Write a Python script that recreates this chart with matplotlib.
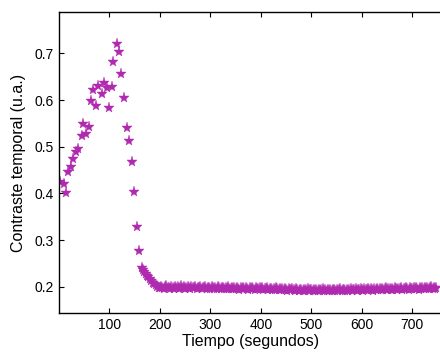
import numpy as np
import matplotlib
matplotlib.use("Agg")
import matplotlib.pyplot as plt

# early part: rise, peak and fall
time_early = [2.4, 10.3, 14.3, 18.8, 23.6, 28.7, 34.0, 38.6, 45.3, 48.5,
              53.9, 60.4, 64.4, 68.3, 73.7, 78.2, 85.0, 89.5, 96.0, 100.0,
              104.8, 108.0, 114.7, 119.8, 123.8, 129.7, 135.6, 139.6, 145.0, 149.5,
              154.3, 159.4, 164.0, 166.5, 169.0, 172.0, 174.5, 177.0, 180.0, 183.0,
              186.0, 189.0, 192.0, 195.0, 197.5]
contrast_early = [0.425, 0.420, 0.400, 0.446, 0.457, 0.473, 0.489, 0.496, 0.523, 0.549,
                  0.527, 0.543, 0.598, 0.621, 0.588, 0.630, 0.612, 0.636, 0.625, 0.582,
                  0.627, 0.681, 0.719, 0.702, 0.656, 0.605, 0.540, 0.512, 0.467, 0.403,
                  0.327, 0.277, 0.240, 0.236, 0.231, 0.228, 0.224, 0.220, 0.216, 0.213,
                  0.209, 0.206, 0.203, 0.200, 0.198]

# plateau, sampled every 2.5 s from 200 s
time_tail = np.arange(200, 750, 2.5)
contrast_tail = [
    0.197, 0.200, 0.198, 0.196, 0.199, 0.201, 0.197, 0.198, 0.195, 0.199,
    0.198, 0.196, 0.200, 0.197, 0.199, 0.196, 0.198, 0.201, 0.197, 0.199,
    0.196, 0.198, 0.200, 0.197, 0.195, 0.199, 0.197, 0.198, 0.200, 0.196,
    0.198, 0.197, 0.199, 0.195, 0.198, 0.197, 0.200, 0.196, 0.198, 0.197,
    0.196, 0.199, 0.197, 0.195, 0.198, 0.196, 0.199, 0.197, 0.195, 0.198,
    0.197, 0.195, 0.198, 0.196, 0.199, 0.196, 0.195, 0.198, 0.196, 0.197,
    0.195, 0.198, 0.196, 0.194, 0.197, 0.196, 0.198, 0.195, 0.197, 0.196,
    0.194, 0.197, 0.195, 0.198, 0.196, 0.194, 0.197, 0.195, 0.196, 0.198,
    0.195, 0.197, 0.194, 0.196, 0.195, 0.197, 0.194, 0.196, 0.195, 0.193,
    0.196, 0.194, 0.197, 0.195, 0.193, 0.196, 0.194, 0.195, 0.193, 0.196,
    0.194, 0.192, 0.195, 0.193, 0.194, 0.196, 0.193, 0.192, 0.195, 0.193,
    0.192, 0.194, 0.193, 0.191, 0.194, 0.192, 0.193, 0.195, 0.192, 0.194,
    0.193, 0.191, 0.194, 0.192, 0.193, 0.191, 0.194, 0.192, 0.193, 0.195,
    0.192, 0.193, 0.191, 0.194, 0.192, 0.193, 0.191, 0.194, 0.193, 0.192,
    0.194, 0.192, 0.193, 0.195, 0.192, 0.194, 0.193, 0.191, 0.194, 0.192,
    0.193, 0.195, 0.192, 0.194, 0.193, 0.195, 0.192, 0.194, 0.193, 0.195,
    0.194, 0.192, 0.195, 0.193, 0.194, 0.196, 0.193, 0.195, 0.194, 0.192,
    0.195, 0.193, 0.196, 0.194, 0.195, 0.193, 0.196, 0.194, 0.195, 0.197,
    0.194, 0.196, 0.195, 0.193, 0.196, 0.194, 0.197, 0.195, 0.194, 0.196,
    0.195, 0.197, 0.194, 0.196, 0.195, 0.197, 0.196, 0.194, 0.197, 0.195,
    0.196, 0.198, 0.195, 0.197, 0.196, 0.194, 0.197, 0.196, 0.198, 0.195,
    0.197, 0.196, 0.198, 0.195, 0.197, 0.199, 0.196, 0.197, 0.195, 0.198,
]

x_ticks = [100, 200, 300, 400, 500, 600, 700]
y_ticks = [0.2, 0.3, 0.4, 0.5, 0.6, 0.7]

plt.rcParams['font.family'] = ['Liberation Sans', 'DejaVu Sans']

fig = plt.figure(figsize=(4.4, 3.54), dpi=100)
ax = fig.add_axes([0.134, 0.116, 0.872, 0.850])

t = np.concatenate([time_early, time_tail])
c = np.concatenate([contrast_early, contrast_tail])
ax.plot(t, c, linestyle='none', marker='*', markersize=8,
        color='#b02ab0', markeredgewidth=0.3)

ax.set_xlim(0, 760)
ax.set_ylim(0.144, 0.7885)
ax.set_xticks(x_ticks)
ax.set_yticks(y_ticks)
ax.set_yticklabels([f"{v:.1f}" for v in y_ticks])
ax.tick_params(direction='in', length=3.5, width=0.8, labelsize=10,
               top=True, right=False, pad=4)
ax.spines['right'].set_visible(False)
for s in ax.spines.values():
    s.set_linewidth(1.0)

ax.set_xlabel("Tiempo (segundos)", fontsize=11.5, labelpad=1)
ax.set_ylabel("Contraste temporal (u.a.)", fontsize=11.5, labelpad=6)

fig.savefig("out.png", dpi=100)
